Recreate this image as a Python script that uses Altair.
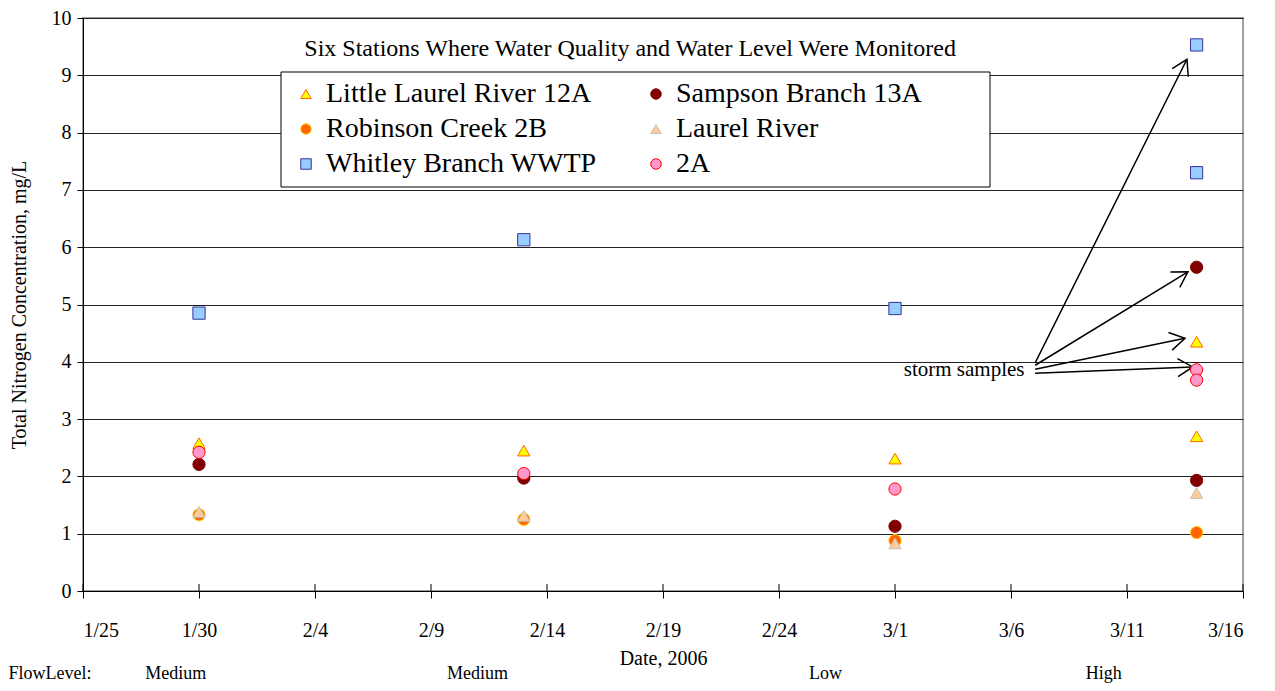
import math
import altair as alt
import pandas as pd

FONT = "Liberation Serif"

# ---------------- data ----------------
# legend reads row by row: LL | Sampson / Robinson | Laurel / Whitley | 2A
stations = ["Little Laurel River 12A", "Robinson Creek 2B", "Whitley Branch WWTP",
            "Sampson Branch 13A", "Laurel River", "2A"]
fills = ["#FFFF00", "#FF6600", "#99CCFF", "#800000", "#FFCC99", "#FF99CC"]
strokes = ["#FF6600", "#FFCC00", "#333399", "#800000", "#C0C0C0", "#FF0000"]
shapes = ["triangle-up", "circle", "square", "circle", "triangle-up", "circle"]

dates_5 = ["2006-01-30", "2006-02-13", "2006-03-01", "2006-03-14", "2006-03-14"]
dates_4 = ["2006-01-30", "2006-02-13", "2006-03-01", "2006-03-14"]

little_laurel = [2.58, 2.45, 2.31, 4.35, 2.70]
sampson = [2.21, 1.97, 1.13, 5.65, 1.93]
robinson = [1.33, 1.25, 0.88, 1.02]
laurel = [1.38, 1.31, 0.83, 1.71]
whitley = [4.85, 6.13, 4.93, 9.53, 7.30]
two_a = [2.42, 2.05, 1.78, 3.86, 3.68]

series = {
    "Little Laurel River 12A": (dates_5, little_laurel),
    "Robinson Creek 2B": (dates_4, robinson),
    "Whitley Branch WWTP": (dates_5, whitley),
    "Sampson Branch 13A": (dates_5, sampson),
    "Laurel River": (dates_4, laurel),
    "2A": (dates_5, two_a),
}

tick_dates = ["2006-01-25", "2006-01-30", "2006-02-04", "2006-02-09", "2006-02-14",
              "2006-02-19", "2006-02-24", "2006-03-01", "2006-03-06", "2006-03-11",
              "2006-03-16"]

# storm-sample arrows (start -> tip), in data units
arrow_x1 = ["2006-03-07T01:00", "2006-03-07T01:00", "2006-03-07T01:00", "2006-03-07T01:00"]
arrow_y1 = [3.98, 3.94, 3.87, 3.80]
arrow_x2 = ["2006-03-13T14:00", "2006-03-13T15:00", "2006-03-13T12:00", "2006-03-13T20:00"]
arrow_y2 = [9.28, 5.57, 4.41, 3.91]

flow_labels = ["FlowLevel:", "Medium", "Medium", "Low", "High"]
flow_dates = ["2006-01-21T19:00", "2006-01-29", "2006-02-11", "2006-02-26", "2006-03-10"]
flow_align = ["left", "center", "center", "center", "center"]

title_text = "Six Stations Where Water Quality and Water Level Were Monitored"

# ---------------- layout ----------------
W, H = 1160, 573
D0 = "2006-01-25"
px_day = W / 50.0
px_unit = H / 10.0

rows = []
for st in stations:
    ds, vs = series[st]
    for d, v in zip(ds, vs):
        rows.append({"date": d, "value": v, "station": st})
df = pd.DataFrame(rows)

xscale = alt.Scale(type="utc", domain=[alt.DateTime(year=2006, month=1, date=25, utc=True),
                                       alt.DateTime(year=2006, month=3, date=16, utc=True)])
yscale = alt.Scale(domain=[0, 10], nice=False)

tick_vals = [alt.DateTime(year=int(t[:4]), month=int(t[5:7]), date=int(t[8:10]), utc=True)
             for t in tick_dates]

legend = alt.Legend(
    title=None, orient="none", legendX=209, legendY=62, columns=2,
    labelFont=FONT, labelFontSize=28, labelColor="black", symbolSize=110,
    symbolStrokeWidth=1, padding=0, rowPadding=7, columnPadding=45,
    labelOffset=6, gridAlign="all", labelLimit=600,
)

points = alt.Chart(df).mark_point(filled=True, size=150, strokeWidth=1, opacity=1).encode(
    x=alt.X("date:T", scale=xscale, title="Date, 2006",
            axis=alt.Axis(values=tick_vals, format="%-m/%-d", grid=False,
                          labelFont=FONT, labelFontSize=20, labelColor="black",
                          labelPadding=22, tickSize=7, tickColor="black",
                          domainColor="black", titleFont=FONT, titleFontSize=20,
                          titleFontWeight="normal", titleColor="black", titlePadding=8)),
    y=alt.Y("value:Q", scale=yscale, title="Total Nitrogen Concentration, mg/L",
            axis=alt.Axis(values=list(range(0, 11)), format="d", grid=True, gridColor="#222",
                          gridWidth=1, labelFont=FONT, labelFontSize=20,
                          labelColor="black", labelPadding=6, tickSize=6,
                          tickColor="black", domainColor="black", titleFont=FONT,
                          titleFontSize=20, titleFontWeight="normal",
                          titleColor="black", titlePadding=22)),
    fill=alt.Fill("station:N", scale=alt.Scale(domain=stations, range=fills), legend=legend),
    stroke=alt.Stroke("station:N", scale=alt.Scale(domain=stations, range=strokes), legend=legend),
    shape=alt.Shape("station:N", scale=alt.Scale(domain=stations, range=shapes), legend=legend),
)

# legend frame (white box with black border)
frame = alt.Chart(pd.DataFrame({"k": [0]})).mark_rect(
    fill="white", stroke="black", strokeWidth=1
).encode(x=alt.value(198), x2=alt.value(907), y=alt.value(54), y2=alt.value(169))

# upper halves of the x ticks
tick_df = pd.DataFrame({"date": tick_dates})
upper_ticks = alt.Chart(tick_df).mark_rule(color="black", strokeWidth=1).encode(
    x=alt.X("date:T", scale=xscale), y=alt.value(H), y2=alt.value(H - 7)
)

# arrows
adf = pd.DataFrame({"x1": arrow_x1, "y1": arrow_y1, "x2": arrow_x2, "y2": arrow_y2})
shafts = alt.Chart(adf).mark_rule(color="black", strokeWidth=1.5).encode(
    x=alt.X("x1:T", scale=xscale), y=alt.Y("y1:Q", scale=yscale),
    x2="x2:T", y2="y2:Q",
)


def days(s):
    return (pd.Timestamp(s) - pd.Timestamp(D0)).total_seconds() / 86400.0


angles = []
for a, b, c, d in zip(arrow_x1, arrow_y1, arrow_x2, arrow_y2):
    dx = (days(c) - days(a)) * px_day
    dy = -(d - b) * px_unit
    angles.append(math.degrees(math.atan2(dx, -dy)) % 360)
adf["angle"] = angles

heads = alt.Chart(adf).mark_point(
    shape="M -0.6 1 L 0 0 L 0.6 1", filled=False, color="black", strokeWidth=1.5,
    size=900, opacity=1,
).encode(
    x=alt.X("x2:T", scale=xscale), y=alt.Y("y2:Q", scale=yscale),
    angle=alt.Angle("angle:Q", scale=None),
)

storm = alt.Chart(pd.DataFrame({"d": ["2006-03-06T14:00"], "v": [3.85], "t": ["storm samples"]})).mark_text(
    font=FONT, fontSize=21, align="right", baseline="middle", color="black"
).encode(x=alt.X("d:T", scale=xscale), y=alt.Y("v:Q", scale=yscale), text="t:N")

title = alt.Chart(pd.DataFrame({"d": ["2006-02-17T14:00"], "v": [9.46], "t": [title_text]})).mark_text(
    font=FONT, fontSize=24, align="center", baseline="middle", color="black"
).encode(x=alt.X("d:T", scale=xscale), y=alt.Y("v:Q", scale=yscale), text="t:N")

fdf = pd.DataFrame({"d": flow_dates, "t": flow_labels, "a": flow_align})
flow_left = alt.Chart(fdf[fdf.a == "left"]).mark_text(
    font=FONT, fontSize=18, align="left", baseline="middle", color="black"
).encode(x=alt.X("d:T", scale=xscale), y=alt.value(H + 83), text="t:N")
flow_center = alt.Chart(fdf[fdf.a == "center"]).mark_text(
    font=FONT, fontSize=18, align="center", baseline="middle", color="black"
).encode(x=alt.X("d:T", scale=xscale), y=alt.value(H + 83), text="t:N")

chart = alt.layer(
    upper_ticks, shafts, heads, storm, title, flow_left, flow_center, frame, points
).properties(
    width=W, height=H,
    autosize=alt.AutoSizeParams(type="none"),
    padding={"left": 75, "top": 10, "right": 20, "bottom": 92},
    background="white",
).configure(
    font=FONT
).configure_view(
    stroke="#A0A0A0", strokeWidth=2
).configure_axis(
    labelFont=FONT, titleFont=FONT
).configure_legend(
    labelFont=FONT, labelFontSize=28, labelColor="black", symbolSize=110,
    symbolStrokeWidth=1, padding=0, rowPadding=7, columnPadding=45,
    labelOffset=6, gridAlign="all", labelLimit=600, strokeColor="transparent",
)

chart.save("out.html", embed_options={"renderer": "svg", "actions": False})
